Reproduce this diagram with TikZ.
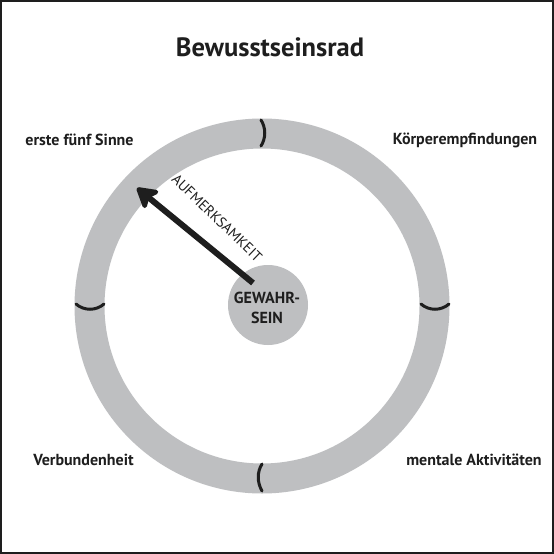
\documentclass[tikz,border=0pt]{standalone}
\usepackage{fontspec}
\setmainfont{PT Sans}
\usetikzlibrary{arrows.meta}
\definecolor{ringgray}{HTML}{BEBFC1}
\definecolor{inkblack}{HTML}{1E1E1E}
\tikzset{
  lbl/.style={font=\bfseries\fontsize{16bp}{18bp}\selectfont, text=inkblack, inner sep=0pt},
  ttl/.style={font=\bfseries\fontsize{26.5bp}{30bp}\selectfont, text=inkblack, inner sep=0pt},
  divider/.style={draw=inkblack, line width=3bp, line cap=round},
}
\begin{document}
\begin{tikzpicture}[x=1bp,y=-1bp]
\useasboundingbox (0,0) rectangle (554,554);
\fill[white] (0,0) rectangle (554,554);
\draw[inkblack, line width=2bp] (1,1) rectangle (553,553);
% ring
\coordinate (c) at (262,306);
\draw[ringgray, line width=30bp] (c) circle[radius=172.5];
% dividers
\draw[divider] (261,120) .. controls (266,128) and (266,138) .. (261,146);
\draw[divider] (262,464) .. controls (257,472) and (257,482) .. (262,491);
\draw[divider] (76,304) .. controls (84,311) and (96,311) .. (104,304);
\draw[divider] (421,304) .. controls (429,311) and (441,311) .. (449,304);
% centre
\node[circle, fill=ringgray, minimum size=80bp, inner sep=0pt] (core) at (268,305) {};
\node[lbl, align=center, font=\bfseries\fontsize{16bp}{20bp}\selectfont] (coretext) at (267,308) {GEWAHR-\\SEIN};
% arrow
\coordinate (tip) at (137,188);
\coordinate (tail) at (253,283);
\draw[inkblack, line width=6bp, -{Stealth[round, length=24bp, width=28bp, inset=6bp]}] (tail) -- (tip);
\node[lbl, font=\fontsize{14.5bp}{16bp}\selectfont, rotate=-44] (att) at (217,218) {AUFMERKSAMKEIT};
% labels
\node[ttl] (title) at (270,47) {Bewusstseinsrad};
\node[lbl] (sinne) at (79.5,140) {erste fünf Sinne};
\node[lbl] (koerper) at (465,140) {Körperempfindungen};
\node[lbl] (verb) at (83.5,460) {Verbundenheit};
\node[lbl] (mental) at (474,460) {mentale Aktivitäten};
\end{tikzpicture}
\end{document}
